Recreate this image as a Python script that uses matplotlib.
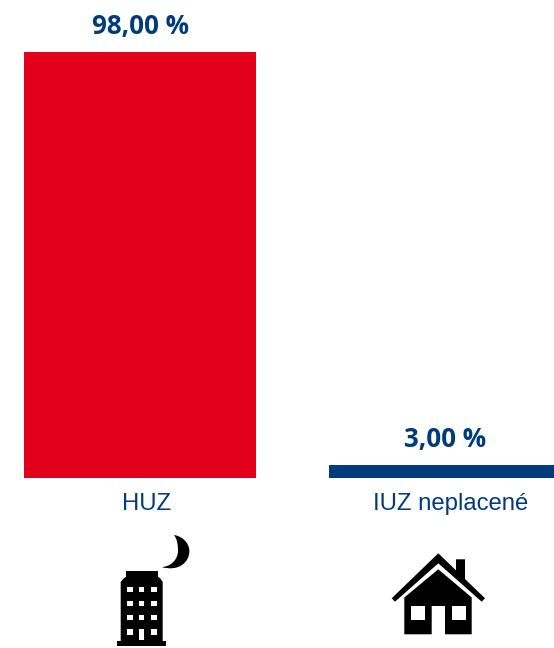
# plot.py
import matplotlib
matplotlib.use('Agg')
import matplotlib.pyplot as plt
from matplotlib.path import Path
from matplotlib.patches import PathPatch, Polygon, Rectangle

# Data
categories = ['HUZ', 'IUZ neplacené']
values = [98.0, 3.0]
value_labels = ['98,00 %', '3,00 %']
bar_colors = ['#E3001B', '#003B7C']

BLUE = '#003B7C'
W, H = 554, 648

fig = plt.figure(figsize=(W / 100, H / 100), dpi=100, facecolor='white')

# main axes fill the figure, scales chosen so the bars land where they should
ax = fig.add_axes([0, 0, 1, 1])
ax.set_xlim(-140 / 305, (W - 140) / 305)
ax.set_ylim(-(H - 478) / 4.347, 478 / 4.347)
ax.axis('off')

xs = range(len(categories))
ax.bar(xs, values, width=232 / 305, color=bar_colors, linewidth=0)

for x, v, lab in zip(xs, values, value_labels):
    ax.annotate(lab, (x, v), xytext=(0, 18), textcoords='offset pixels', ha='center', va='baseline',
                fontsize=18.7, fontweight='bold', family='Open Sans', color=BLUE)

# labels sit a bit right of the bar centres
label_shift = [6.5, 6]
for x, lab, dx in zip(xs, categories, label_shift):
    ax.annotate(lab, (x, 0), xytext=(dx, -32), textcoords='offset pixels', ha='center', va='baseline',
                fontsize=17.2, family='Liberation Sans', color=BLUE)

# icons, drawn in pixel coordinates on an overlay
ic = fig.add_axes([0, 0, 1, 1])
ic.set_xlim(0, W)
ic.set_ylim(H, 0)
ic.axis('off')
ic.patch.set_alpha(0)

# building
building = [(117, 646), (117, 641), (120.7, 641), (120.7, 582), (124, 578), (126, 577), (126, 571),
            (158, 571), (158, 577), (160, 578), (162.7, 582), (162.7, 641), (166, 641), (166, 646)]
ic.add_patch(Polygon(building, closed=True, fc='black', ec='none'))
for wy in [589.3, 603.3, 617.3, 631.7]:
    for wx in [129.7, 141.7, 154]:
        if wy > 630 and wx == 141.7:
            continue
        ic.add_patch(Rectangle((wx - 2.8, wy - 2.8), 5.6, 5.6, fc='white', ec='none'))
ic.add_patch(Rectangle((139.3, 629), 5, 11, fc='white', ec='none'))

# moon
moon = Path([(174, 535), (186, 537), (190, 547), (189.3, 552), (189, 562), (179, 572), (161.5, 567),
             (170, 567), (178, 560), (178, 551), (178, 544), (177, 539), (174, 535)],
            [Path.MOVETO] + [Path.CURVE4] * 12)
ic.add_patch(PathPatch(moon, fc='black', ec='none'))

# house
ic.add_patch(Polygon([(456, 559.3), (465, 559.3), (465, 583), (456, 575)], closed=True, fc='black', ec='none'))
roof = [(438.3, 553.3), (485, 598.3), (481.7, 601.7), (438.3, 563.3), (395, 601.7), (391.7, 598.3)]
ic.add_patch(Polygon(roof, closed=True, fc='black', ec='none'))
body = [(438.3, 569.3), (471.7, 597.5), (471.7, 634.3), (445, 634.3), (445, 606), (431.7, 606),
        (431.7, 634.3), (404.3, 634.3), (404.3, 597.5)]
ic.add_patch(Polygon(body, closed=True, fc='black', ec='none'))
ic.add_patch(Rectangle((410.7, 606), 14.3, 14, fc='white', ec='none'))
ic.add_patch(Rectangle((451.7, 606), 14, 14, fc='white', ec='none'))

fig.savefig('out.png', dpi=100)
